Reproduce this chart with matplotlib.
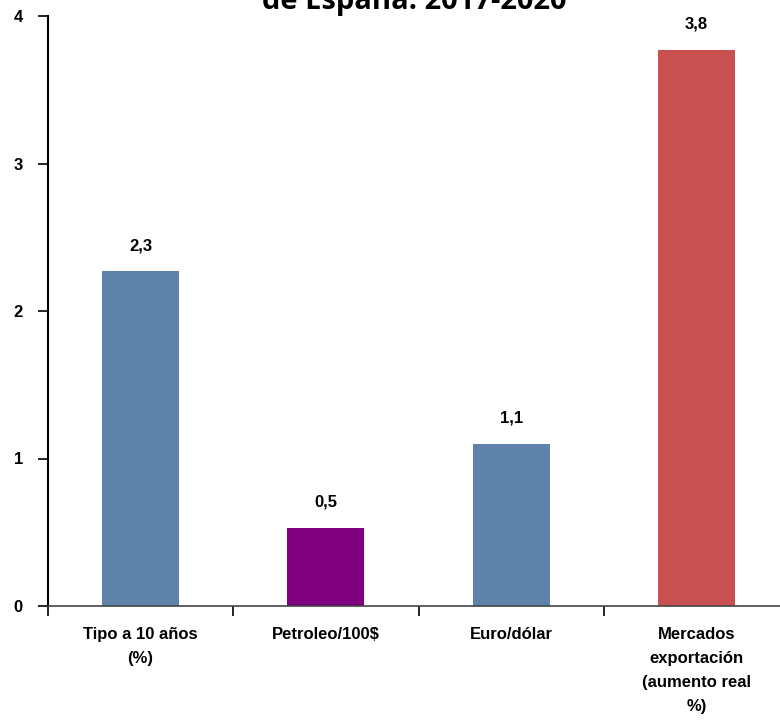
import matplotlib
matplotlib.use('Agg')
import matplotlib.pyplot as plt
import numpy as np

categories = ['Tipo a 10 años\n(%)', 'Petroleo/100$', 'Euro/dólar',
              'Mercados\nexportación\n(aumento real\n%)']
values = [2.27, 0.53, 1.10, 3.77]
labels = ['2,3', '0,5', '1,1', '3,8']
colors = ['#5F82AA', '#800080', '#5F82AA', '#C85050']

plt.rcParams['font.family'] = ['Liberation Sans', 'DejaVu Sans']

fig = plt.figure(figsize=(7.8, 7.24), dpi=100)
ax = fig.add_axes([48/780, 1 - 606/724, 741/780, 590/724])

x = np.arange(len(categories))
ax.bar(x, values, width=0.415, color=colors)
for xi, v, lab in zip(x, values, labels):
    ax.annotate(lab, (xi, v), xytext=(0, 13), textcoords='offset points',
                ha='center', va='bottom', fontsize=12, fontweight='bold')

ax.set_xlim(-0.5, len(categories) - 0.5)
ax.set_ylim(0, 4)
ax.set_yticks([0, 1, 2, 3, 4])
ax.set_yticklabels(['0', '1', '2', '3', '4'], fontsize=12, fontweight='bold')
ax.tick_params(axis='y', direction='out', length=7, width=1.2, pad=11)

# category boundaries as ticks, labels centred in between
ax.set_xticks(np.arange(len(categories) + 1) - 0.5)
ax.set_xticklabels([])
ax.set_xticks(x, minor=True)
ax.set_xticklabels(categories, minor=True, fontsize=12, fontweight='bold',
                   linespacing=1.75)
ax.tick_params(axis='x', which='major', direction='out', length=7, width=1.2)
ax.tick_params(axis='x', which='minor', length=0, pad=15)

for s in ['top', 'right']:
    ax.spines[s].set_visible(False)
ax.spines['left'].set_linewidth(1.5)
ax.spines['bottom'].set_linewidth(1.2)
ax.spines['bottom'].set_color('#444444')

fig.text(0.531, 1 - 9/724, 'de España. 2017-2020', ha='center', va='baseline',
         fontsize=21, fontweight='bold', family=['Open Sans', 'DejaVu Sans'])

fig.savefig('out.png', dpi=100)
